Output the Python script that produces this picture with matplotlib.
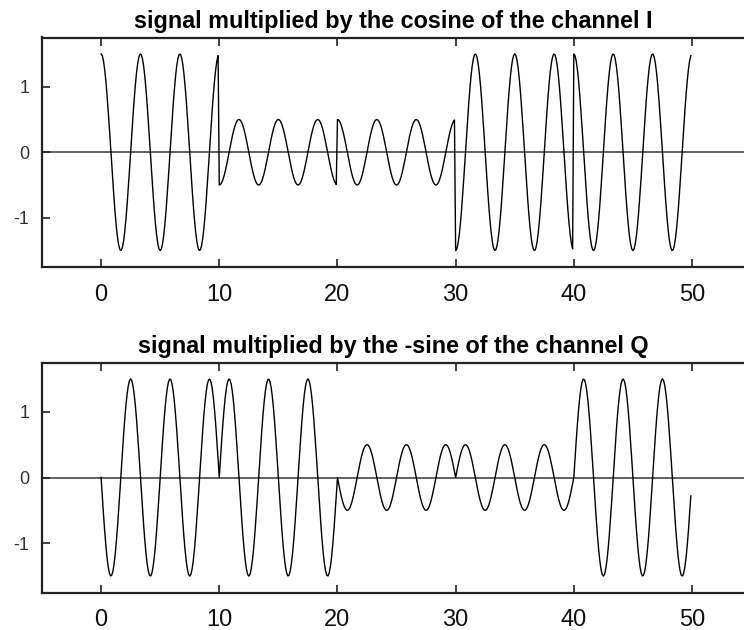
import numpy as np
import matplotlib.pyplot as plt

# symbol amplitudes, one per 10-unit slot
i_symbols = [1.5, -0.5, 0.5, -1.5, 1.5]
q_symbols = [1.5, -1.5, 0.5, -0.5, -1.5]
carrier_freq = 0.3      # cycles per time unit
samples_per_symbol = 100
dt = 0.1

titles = ["signal multiplied by the cosine of the channel I",
          "signal multiplied by the -sine of the channel Q"]
x_ticks = [0, 10, 20, 30, 40, 50]
x_ticklabels = ["0", "10", "20", "30", "40", "50"]
y_ticks = [-1, 0, 1]
y_ticklabels = ["-1", "0", "1"]

plt.rcParams['font.family'] = ['Liberation Sans', 'DejaVu Sans']

n = np.arange(len(i_symbols) * samples_per_symbol)
t = n * dt
slot = n // samples_per_symbol
w = 2 * np.pi * carrier_freq
i_branch = np.array(i_symbols)[slot] * np.cos(w * t)
q_branch = np.array(q_symbols)[slot] * -np.sin(w * t)

W, H = 744, 630
fig = plt.figure(figsize=(W / 100, H / 100), dpi=100)

def px_axes(left, top, right, bottom):
    return fig.add_axes([left / W, 1 - bottom / H, (right - left) / W, (bottom - top) / H])

boxes = [(42, 37.5, 744, 267), (42, 362.5, 744, 592.5)]
spine_col = "#222222"

for box, sig, title in zip(boxes, [i_branch, q_branch], titles):
    ax = px_axes(*box)
    ax.axhline(0, color="#555555", lw=1.3, zorder=1)
    ax.plot(t, sig, color="black", lw=1.0, zorder=2)
    ax.set_xlim(-5, 54.4)
    ax.set_ylim(-1.75, 1.75)
    ax.set_xticks(x_ticks)
    ax.set_xticklabels(x_ticklabels)
    ax.set_yticks(y_ticks)
    ax.set_yticklabels(y_ticklabels)
    ax.spines['right'].set_visible(False)
    for s in ['left', 'top', 'bottom']:
        ax.spines[s].set_color(spine_col)
        ax.spines[s].set_linewidth(1.6)
    ax.tick_params(axis='x', direction='in', top=True, bottom=True, length=6,
                   width=1.2, color=spine_col, labelsize=17, pad=12, labelcolor="#111111")
    ax.tick_params(axis='y', direction='in', left=True, right=False, length=6,
                   width=1.2, color=spine_col, labelsize=13, pad=9, labelcolor="#333333")
    ax.set_title(title, fontsize=16.8, fontweight='bold', pad=7)

fig.savefig("out.png", dpi=100)
